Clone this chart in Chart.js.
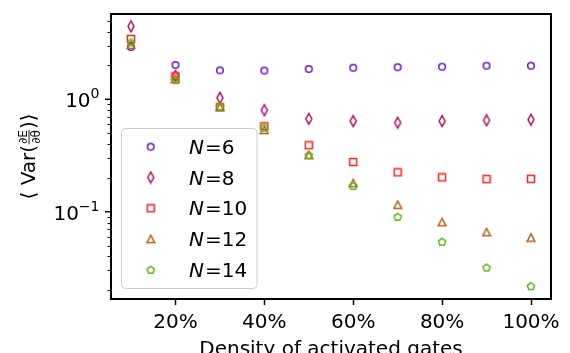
<!DOCTYPE html>
<html><head><meta charset="utf-8">
<script src="https://cdn.jsdelivr.net/npm/chart.js@4.4.1/dist/chart.umd.min.js"></script>
<style>html,body{margin:0;padding:0;background:#fff;}#wrap{width:570px;height:353px;}</style>
</head><body><div id="wrap"><canvas id="c" width="570" height="353"></canvas></div>
<script>
// ---- data ----
const densities = [10, 20, 30, 40, 50, 60, 70, 80, 90, 100];
const seriesN6  = [2.92, 2.02, 1.81, 1.80, 1.86, 1.91, 1.93, 1.95, 1.99, 1.99];
const seriesN8  = [4.46, 1.62, 1.03, 0.80, 0.67, 0.64, 0.62, 0.64, 0.65, 0.66];
const seriesN10 = [3.44, 1.60, 0.85, 0.575, 0.39, 0.277, 0.224, 0.202, 0.195, 0.196];
const seriesN12 = [3.05, 1.51, 0.85, 0.533, 0.318, 0.179, 0.115, 0.0805, 0.0656, 0.0587];
const seriesN14 = [3.20, 1.48, 0.86, 0.56, 0.318, 0.169, 0.090, 0.054, 0.0318, 0.0217];
const seriesNames = ['6', '8', '10', '12', '14'];
const xTickValues = [20, 40, 60, 80, 100];
const yMajorTicks = [0.1, 1];
const yMajorExponents = ['\u22121', '0'];
const yMinorTicks = [0.02,0.03,0.04,0.05,0.06,0.07,0.08,0.09,0.2,0.3,0.4,0.5,0.6,0.7,0.8,0.9,2,3,4,5];
const xTitle = 'Density of activated gates';

const colors = ['#6418c8', '#b0105c', '#ff2020', '#b5611a', '#58b412'];
const FONT = '"DejaVu Sans", "Liberation Sans", sans-serif';

function mk(w, h, color, path) {
  const c = document.createElement('canvas');
  c.width = w; c.height = h;
  const g = c.getContext('2d');
  g.strokeStyle = color; g.lineWidth = 1.5; g.lineJoin = 'miter';
  g.beginPath(); path(g, w / 2, h / 2); g.closePath(); g.stroke();
  return c;
}
const markers = [
  mk(10, 10, colors[0], (g, cx, cy) => { g.arc(cx, cy, 3.3, 0, Math.PI * 2); }),
  mk(10, 14, colors[1], (g, cx, cy) => { g.moveTo(cx, cy - 5.4); g.lineTo(cx + 3, cy); g.lineTo(cx, cy + 5.4); g.lineTo(cx - 3, cy); }),
  mk(10, 10, colors[2], (g, cx, cy) => { g.rect(cx - 3.5, cy - 3.5, 7, 7); }),
  mk(10, 10, colors[3], (g, cx, cy) => { g.moveTo(cx, cy - 3.8); g.lineTo(cx + 3.8, cy + 3.4); g.lineTo(cx - 3.8, cy + 3.4); }),
  mk(10, 10, colors[4], (g, cx, cy) => {
    for (let k = 0; k < 5; k++) {
      const a = -Math.PI / 2 + k * 2 * Math.PI / 5;
      const px = cx + 3.8 * Math.cos(a), py = cy + 0.3 + 3.8 * Math.sin(a);
      if (k === 0) g.moveTo(px, py); else g.lineTo(px, py);
    }
  })
];

const allSeries = [seriesN6, seriesN8, seriesN10, seriesN12, seriesN14];
const datasets = allSeries.map((s, i) => ({
  label: 'N=' + seriesNames[i],
  data: densities.map((x, j) => ({ x: x, y: s[j] })),
  pointStyle: markers[i],
  showLine: false,
  order: 5 - i
}));

const deco = {
  id: 'deco',
  afterDraw(chart) {
    const ctx = chart.ctx;
    const a = chart.chartArea;
    const ys = chart.scales.y;
    ctx.save();
    // y ticks
    ctx.strokeStyle = '#000';
    yMinorTicks.forEach(v => {
      const y = Math.round(ys.getPixelForValue(v)) + 0.5;
      ctx.lineWidth = 1;
      ctx.beginPath(); ctx.moveTo(a.left - 3.5, y); ctx.lineTo(a.left, y); ctx.stroke();
    });
    yMajorTicks.forEach((v, i) => {
      const y = ys.getPixelForValue(v);
      ctx.lineWidth = 1.5;
      ctx.beginPath(); ctx.moveTo(a.left - 6, y); ctx.lineTo(a.left, y); ctx.stroke();
      ctx.fillStyle = '#000';
      ctx.textBaseline = 'alphabetic';
      ctx.textAlign = 'left';
      ctx.font = '20px ' + FONT;
      const bw = ctx.measureText('10').width;
      ctx.font = '14px ' + FONT;
      const sw = ctx.measureText(yMajorExponents[i]).width;
      const x0 = 99.5 - bw - sw;
      ctx.font = '20px ' + FONT;
      ctx.fillText('10', x0, y + 8);
      ctx.font = '14px ' + FONT;
      ctx.fillText(yMajorExponents[i], x0 + bw, y - 1);
    });
    // frame
    ctx.lineWidth = 2;
    ctx.strokeStyle = '#000';
    ctx.strokeRect(a.left, a.top, a.right - a.left, a.bottom - a.top);
    // x title
    ctx.fillStyle = '#000';
    ctx.font = '20px ' + FONT;
    ctx.textAlign = 'center';
    ctx.textBaseline = 'alphabetic';
    ctx.fillText(xTitle, (a.left + a.right) / 2, 354.5);
    // y title  ⟨ Var(∂E/∂θ) ⟩
    ctx.font = '20px ' + FONT;
    const p1 = '\u27E8 Var(', p2 = ')\u27E9';
    const w1 = ctx.measureText(p1).width, w2 = ctx.measureText(p2).width;
    ctx.font = '12px ' + FONT;
    const wf = Math.max(ctx.measureText('\u2202E').width, ctx.measureText('\u2202\u03B8').width) + 2;
    const L = w1 + wf + w2;
    ctx.translate(35, (a.top + a.bottom) / 2 + L / 2);
    ctx.rotate(-Math.PI / 2);
    ctx.textAlign = 'left';
    ctx.font = '20px ' + FONT;
    ctx.fillText(p1, 0, 0);
    ctx.font = '12px ' + FONT;
    ctx.textAlign = 'center';
    ctx.fillText('\u2202E', w1 + wf / 2, -8);
    ctx.fillText('\u2202\u03B8', w1 + wf / 2, 4.5);
    ctx.lineWidth = 0.9;
    ctx.beginPath(); ctx.moveTo(w1 + 0.5, -6); ctx.lineTo(w1 + wf - 0.5, -6); ctx.stroke();
    ctx.textAlign = 'left';
    ctx.font = '20px ' + FONT;
    ctx.fillText(p2, w1 + wf, 0);
    ctx.restore();

    // legend
    ctx.save();
    const bx = 121.5, by = 128.5, bw2 = 135.5, bh = 160, r = 4;
    ctx.beginPath();
    ctx.moveTo(bx + r, by); ctx.lineTo(bx + bw2 - r, by); ctx.arcTo(bx + bw2, by, bx + bw2, by + r, r);
    ctx.lineTo(bx + bw2, by + bh - r); ctx.arcTo(bx + bw2, by + bh, bx + bw2 - r, by + bh, r);
    ctx.lineTo(bx + r, by + bh); ctx.arcTo(bx, by + bh, bx, by + bh - r, r);
    ctx.lineTo(bx, by + r); ctx.arcTo(bx, by, bx + r, by, r); ctx.closePath();
    ctx.fillStyle = 'rgba(255,255,255,0.8)'; ctx.fill();
    ctx.strokeStyle = '#cccccc'; ctx.lineWidth = 1; ctx.stroke();
    seriesNames.forEach((n, i) => {
      const ry = 146.7 + i * 30.8;
      const m = markers[i];
      ctx.drawImage(m, 150.7 - m.width / 2, ry - m.height / 2);
      ctx.fillStyle = '#000';
      ctx.textBaseline = 'alphabetic';
      ctx.textAlign = 'left';
      ctx.font = 'italic 20px ' + FONT;
      ctx.fillText('N', 189, ry + 7);
      const nw = ctx.measureText('N').width;
      ctx.font = '20px ' + FONT;
      ctx.fillText('=' + n, 189 + nw + 1, ry + 7);
    });
    ctx.restore();
  }
};

new Chart(document.getElementById('c'), {
  type: 'scatter',
  data: { datasets: datasets },
  options: {
    responsive: false,
    animation: false,
    devicePixelRatio: 1,
    layout: { padding: { left: 0, top: 14, right: 19, bottom: 0 } },
    plugins: { legend: { display: false }, tooltip: { enabled: false } },
    scales: {
      x: {
        type: 'linear', min: 5.5, max: 104.5,
        afterBuildTicks: s => { s.ticks = xTickValues.map(v => ({ value: v })); },
        afterFit: s => { s.height = 54; },
        grid: { display: true, drawOnChartArea: false, drawTicks: true, tickLength: 6, tickColor: '#000', tickWidth: 1.5 },
        border: { display: false },
        ticks: { color: '#000', font: { family: FONT, size: 20 }, padding: 6, maxRotation: 0, autoSkip: false, callback: v => v + '%' }
      },
      y: {
        type: 'logarithmic', min: 0.01672, max: 5.74,
        afterFit: s => { s.width = 111; },
        ticks: { display: false },
        grid: { display: false },
        border: { display: false }
      }
    }
  },
  plugins: [deco]
});
</script>
</body></html>
